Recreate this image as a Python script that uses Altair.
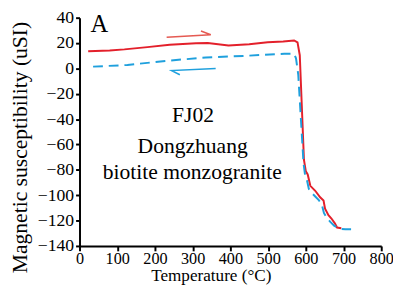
import altair as alt
import pandas as pd

FONT = "Liberation Serif"

# Heating curve (red)
heat_T = [23, 80, 119, 180, 239, 309, 340, 395, 450, 499, 540, 569, 578, 584, 593, 595,
          600, 605, 612, 625, 638, 647, 651, 660, 668, 677, 683, 694]
heat_k = [13.5, 14.2, 15.0, 16.8, 18.6, 19.9, 20.0, 18.1, 19.0, 20.6, 21.3, 22.0, 20.5, 10.4,
          -56.6, -72, -81, -83.6, -92.6, -96.5, -101.6, -104.2, -110.6, -115.8, -118.4,
          -122.2, -125.5, -126.1]

# Cooling curve (blue, dashed)
cool_T = [36, 127, 231, 335, 439, 543, 569, 574, 580, 588, 594, 598, 603, 608, 615, 625,
          635, 643, 648, 656, 665, 675, 690, 705, 720]
cool_k = [1.4, 2.7, 6.0, 8.6, 9.9, 11.6, 11.6, 8, -5, -45, -75, -84, -88, -95, -98, -101,
          -104, -108, -114, -118, -121, -124, -126.5, -126.8, -126.8]

# Arrows (direction indicators)
red_arrow_T = [231, 348, 322]
red_arrow_k = [24.5, 26.5, 29.5]
blue_arrow_T = [361, 244, 266]
blue_arrow_k = [0.0, -1.7, -5.0]

# Annotations
ann_text = ["FJ02", "Dongzhuang", "biotite monzogranite"]
ann_T = [301, 300, 299]
ann_k = [-41.9, -66.6, -87.5]

x_ticks = [0, 100, 200, 300, 400, 500, 600, 700, 800]
y_ticks = [40, 20, 0, -20, -40, -60, -80, -100, -120, -140]

RED = "#e3202b"
BLUE = "#1fa0dd"

xs = alt.Scale(domain=[0, 800], nice=False)
ys = alt.Scale(domain=[-140, 40], nice=False)

heat = pd.DataFrame({"T": heat_T, "k": heat_k, "o": range(len(heat_T))})
cool = pd.DataFrame({"T": cool_T, "k": cool_k, "o": range(len(cool_T))})
ra = pd.DataFrame({"T": red_arrow_T, "k": red_arrow_k, "o": range(3)})
ba = pd.DataFrame({"T": blue_arrow_T, "k": blue_arrow_k, "o": range(3)})
ann = pd.DataFrame({"t": ann_text, "T": ann_T, "k": ann_k})
lab = pd.DataFrame({"t": ["A"], "T": [29], "k": [28.4]})

common = dict(labelFont=FONT, titleFont=FONT, labelColor="black", titleColor="black",
              domainColor="black", tickColor="black", domainWidth=2, tickWidth=2,
              grid=False, labelOverlap=False, labelFlush=False, titleFontWeight="normal")

xaxis = alt.Axis(values=x_ticks, tickCount=9, title="Temperature (°C)", titleX=134, titleY=35,
                 titleBaseline="alphabetic", titleFontSize=17.5,
                 labelFontSize=16.5, tickSize=5, labelPadding=0, **common)
yaxis = alt.Axis(values=y_ticks, tickCount=10, title="Magnetic susceptibility (uSI)",
                 titleFontSize=22, titleX=-61, titleY=132, titleBaseline="middle",
                 titleAlign="center", titleAngle=270,
                 labelFontSize=18, tickSize=4, labelPadding=2, **common)


def X():
    return alt.X("T:Q", scale=xs, axis=xaxis)


def Y():
    return alt.Y("k:Q", scale=ys, axis=yaxis)


red_line = alt.Chart(heat).mark_line(color=RED, strokeWidth=2).encode(x=X(), y=Y(), order="o:Q")
blue_line = alt.Chart(cool).mark_line(color=BLUE, strokeWidth=2, strokeDash=[10, 6]).encode(
    x=X(), y=Y(), order="o:Q")
red_arr = alt.Chart(ra).mark_line(color="#e55a52", strokeWidth=1.5).encode(
    x=X(), y=Y(), order="o:Q")
blue_arr = alt.Chart(ba).mark_line(color=BLUE, strokeWidth=1.5).encode(
    x=X(), y=Y(), order="o:Q")
texts = alt.Chart(ann).mark_text(font=FONT, fontSize=22, align="center",
                                 baseline="alphabetic", color="black").encode(
    x=X(), y=Y(), text="t:N")
letter = alt.Chart(lab).mark_text(font=FONT, fontSize=25, align="left",
                                  baseline="alphabetic", color="black").encode(
    x=X(), y=Y(), text="t:N")

chart = alt.layer(red_line, blue_line, red_arr, blue_arr, texts, letter).properties(
    width=308, height=233,
    autosize=alt.AutoSizeParams(type="none"),
    padding={"left": 73, "top": 7, "right": 12, "bottom": 38},
).configure_view(stroke=None)

chart.save("out.html", embed_options={"renderer": "svg", "actions": False})
